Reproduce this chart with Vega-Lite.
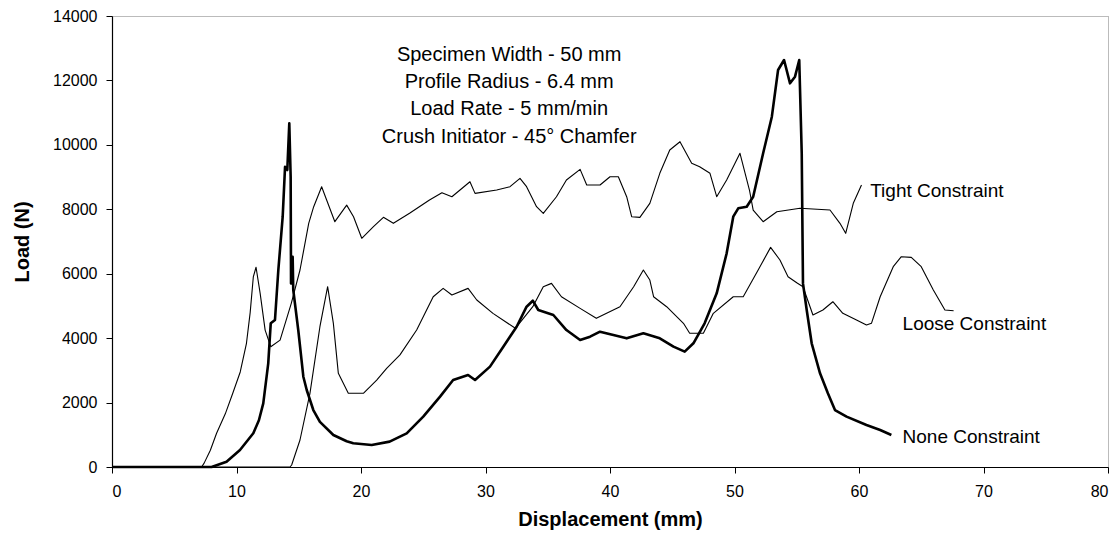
{
  "$schema": "https://vega.github.io/schema/vega-lite/v6.json",
  "width": 996,
  "height": 451,
  "autosize": {"type": "none"},
  "padding": {"left": 112, "top": 16, "right": 12, "bottom": 75},
  "background": "white",
  "config": {
    "font": "Liberation Sans",
    "view": {"stroke": "#777", "strokeDash": [1, 1], "strokeWidth": 1},
    "axis": {"grid": false, "domainColor": "black", "tickColor": "black", "labelColor": "black", "titleColor": "black", "labelFont": "Liberation Sans", "titleFont": "Liberation Sans", "labelFontSize": 16, "titleFontSize": 20, "titleFontWeight": "bold", "tickSize": 6, "domainWidth": 1.2, "tickWidth": 1}
  },
  "datasets": {
    "tight": [
      {"x":0,"y":0},{"x":7.2,"y":0},{"x":7.4,"y":120},{"x":7.9,"y":520},{"x":8.4,"y":1046},{"x":9.1,"y":1650},{"x":9.7,"y":2290},{"x":10.3,"y":2950},{"x":10.8,"y":3840},{"x":11.1,"y":4800},{"x":11.35,"y":5900},{"x":11.57,"y":6200},{"x":11.9,"y":5390},{"x":12.3,"y":4250},{"x":12.75,"y":3735},{"x":13.5,"y":3940},{"x":14.4,"y":5080},{"x":15.1,"y":6115},{"x":15.8,"y":7560},{"x":16.2,"y":8080},{"x":16.84,"y":8700},{"x":17.24,"y":8290},{"x":17.9,"y":7615},{"x":18.85,"y":8130},{"x":19.4,"y":7770},{"x":20.06,"y":7100},{"x":21.0,"y":7460},{"x":21.8,"y":7750},{"x":22.6,"y":7564},{"x":23.9,"y":7875},{"x":25.5,"y":8290},{"x":26.5,"y":8515},{"x":27.3,"y":8390},{"x":28.75,"y":8856},{"x":29.16,"y":8494},{"x":30.9,"y":8598},{"x":31.97,"y":8701},{"x":32.77,"y":8962},{"x":33.3,"y":8701},{"x":34.1,"y":8080},{"x":34.64,"y":7875},{"x":35.7,"y":8390},{"x":36.5,"y":8908},{"x":37.6,"y":9240},{"x":38.13,"y":8753},{"x":39.2,"y":8753},{"x":40.0,"y":9011},{"x":40.67,"y":9011},{"x":41.34,"y":8390},{"x":41.74,"y":7770},{"x":42.4,"y":7750},{"x":43.2,"y":8185},{"x":44.0,"y":9116},{"x":44.8,"y":9840},{"x":45.62,"y":10098},{"x":46.56,"y":9427},{"x":47.2,"y":9320},{"x":48.03,"y":9116},{"x":48.57,"y":8390},{"x":49.37,"y":8908},{"x":50.44,"y":9737},{"x":51.2,"y":8598},{"x":51.5,"y":7977},{"x":52.3,"y":7615},{"x":53.4,"y":7925},{"x":55.26,"y":8030},{"x":57.67,"y":7977},{"x":58.47,"y":7564},{"x":58.93,"y":7254},{"x":59.54,"y":8185},{"x":60.2,"y":8753}
    ],
    "loose": [
      {"x":0,"y":0},{"x":14.3,"y":0},{"x":14.43,"y":62},{"x":15.1,"y":838},{"x":15.9,"y":2288},{"x":16.7,"y":4355},{"x":17.32,"y":5597},{"x":17.78,"y":4460},{"x":18.18,"y":2908},{"x":18.98,"y":2288},{"x":20.19,"y":2288},{"x":21.26,"y":2700},{"x":22.06,"y":3063},{"x":23.13,"y":3480},{"x":24.47,"y":4252},{"x":25.8,"y":5286},{"x":26.6,"y":5545},{"x":27.3,"y":5339},{"x":28.6,"y":5545},{"x":29.3,"y":5184},{"x":30.6,"y":4770},{"x":32.4,"y":4305},{"x":33.8,"y":4976},{"x":34.64,"y":5597},{"x":35.3,"y":5700},{"x":36.1,"y":5286},{"x":37.6,"y":4925},{"x":38.9,"y":4615},{"x":40.8,"y":4976},{"x":41.9,"y":5597},{"x":42.68,"y":6115},{"x":43.2,"y":5804},{"x":43.5,"y":5286},{"x":44.55,"y":4976},{"x":45.9,"y":4460},{"x":46.4,"y":4150},{"x":47.5,"y":4150},{"x":48.3,"y":4770},{"x":49.9,"y":5286},{"x":50.7,"y":5286},{"x":51.9,"y":6115},{"x":52.9,"y":6818},{"x":53.65,"y":6425},{"x":54.3,"y":5907},{"x":55.0,"y":5720},{"x":55.5,"y":5597},{"x":56.3,"y":4718},{"x":57.1,"y":4873},{"x":57.9,"y":5131},{"x":58.7,"y":4770},{"x":59.8,"y":4563},{"x":60.6,"y":4408},{"x":61.0,"y":4460},{"x":61.7,"y":5286},{"x":62.75,"y":6218},{"x":63.4,"y":6528},{"x":64.2,"y":6508},{"x":65.0,"y":6218},{"x":65.97,"y":5494},{"x":66.9,"y":4873},{"x":67.6,"y":4852}
    ],
    "none": [
      {"x":0,"y":0},{"x":8.0,"y":0},{"x":9.2,"y":165},{"x":10.28,"y":528},{"x":11.35,"y":1046},{"x":11.8,"y":1450},{"x":12.15,"y":1977},{"x":12.55,"y":3219},{"x":12.75,"y":4460},{"x":13.09,"y":4563},{"x":13.36,"y":6115},{"x":13.71,"y":7770},{"x":13.9,"y":9321},{"x":14.08,"y":9219},{"x":14.24,"y":10668},{"x":14.35,"y":9011},{"x":14.38,"y":5700},{"x":14.51,"y":6528},{"x":14.56,"y":5494},{"x":14.96,"y":4252},{"x":15.37,"y":2803},{"x":15.64,"y":2390},{"x":16.17,"y":1769},{"x":16.7,"y":1400},{"x":17.78,"y":993},{"x":18.85,"y":800},{"x":19.38,"y":735},{"x":20.86,"y":683},{"x":22.3,"y":787},{"x":23.67,"y":1046},{"x":25.0,"y":1563},{"x":26.35,"y":2184},{"x":27.4,"y":2700},{"x":28.6,"y":2856},{"x":29.16,"y":2700},{"x":30.36,"y":3115},{"x":31.43,"y":3735},{"x":32.5,"y":4355},{"x":33.3,"y":4976},{"x":33.8,"y":5162},{"x":34.24,"y":4873},{"x":35.45,"y":4718},{"x":36.5,"y":4252},{"x":37.6,"y":3942},{"x":38.4,"y":4045},{"x":39.2,"y":4200},{"x":40.27,"y":4097},{"x":41.34,"y":3994},{"x":42.68,"y":4150},{"x":44.0,"y":3994},{"x":45.1,"y":3735},{"x":46.0,"y":3580},{"x":46.7,"y":3840},{"x":47.6,"y":4460},{"x":48.57,"y":5391},{"x":49.37,"y":6633},{"x":49.9,"y":7770},{"x":50.3,"y":8030},{"x":50.98,"y":8080},{"x":51.5,"y":8390},{"x":52.3,"y":9737},{"x":53.0,"y":10874},{"x":53.5,"y":12323},{"x":53.98,"y":12633},{"x":54.46,"y":11910},{"x":54.86,"y":12116},{"x":55.2,"y":12633},{"x":55.4,"y":9737},{"x":55.5,"y":5700},{"x":55.8,"y":4873},{"x":56.2,"y":3840},{"x":56.87,"y":2908},{"x":57.5,"y":2288},{"x":58.07,"y":1769},{"x":59.0,"y":1563},{"x":60.6,"y":1304},{"x":61.7,"y":1149},{"x":62.6,"y":993}
    ],
    "notes": [
      {"x":31.9,"y":12788,"text":"Specimen Width - 50 mm"},
      {"x":31.9,"y":11950,"text":"Profile Radius - 6.4 mm"},
      {"x":31.9,"y":11112,"text":"Load Rate - 5 mm/min"},
      {"x":31.9,"y":10243,"text":"Crush Initiator - 45° Chamfer"}
    ],
    "labels": [
      {"x":60.9,"y":8580,"text":"Tight Constraint"},
      {"x":63.5,"y":4439,"text":"Loose Constraint"},
      {"x":63.5,"y":931,"text":"None Constraint"}
    ]
  },
  "encoding": {
    "x": {"field": "x", "type": "quantitative", "scale": {"domain": [0, 80], "nice": false}, "axis": {"title": "Displacement (mm)", "values": [0,10,20,30,40,50,60,70,80], "format": "d", "labelPadding": 10, "titlePadding": 10}},
    "y": {"field": "y", "type": "quantitative", "scale": {"domain": [0, 14000], "nice": false}, "axis": {"title": "Load (N)", "values": [0,2000,4000,6000,8000,10000,12000,14000], "format": "d", "labelPadding": 9, "titlePadding": 20}}
  },
  "layer": [
    {"data": {"name": "tight"}, "mark": {"type": "line", "color": "black", "strokeWidth": 1.1, "strokeJoin": "round"}},
    {"data": {"name": "loose"}, "mark": {"type": "line", "color": "black", "strokeWidth": 1.1, "strokeJoin": "round"}},
    {"data": {"name": "none"}, "mark": {"type": "line", "color": "black", "strokeWidth": 2.6, "strokeJoin": "round"}},
    {"data": {"name": "notes"}, "mark": {"type": "text", "align": "center", "baseline": "middle", "fontSize": 20, "font": "Liberation Sans", "color": "black"}, "encoding": {"text": {"field": "text"}}},
    {"data": {"name": "labels"}, "mark": {"type": "text", "align": "left", "baseline": "middle", "fontSize": 19, "font": "Liberation Sans", "color": "black"}, "encoding": {"text": {"field": "text"}}}
  ]
}
